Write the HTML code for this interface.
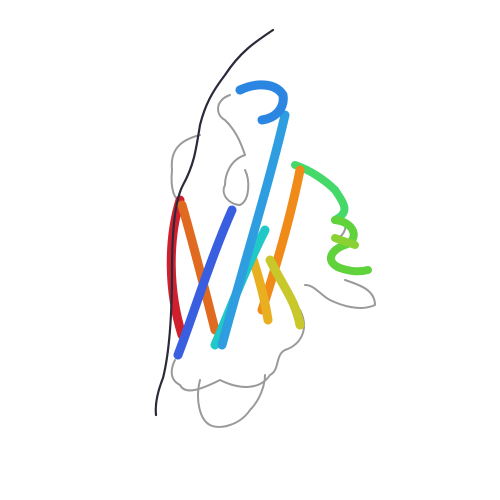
<!DOCTYPE html>
<html><head><meta charset="utf-8"><style>html,body{margin:0;background:#fff}svg{display:block}</style></head>
<body>
<svg width="500" height="500" viewBox="0 0 500 500" fill="none" stroke-linecap="round" stroke-linejoin="round">
<g stroke="#9a9a9a" stroke-width="2">
<path d="M230,95 C215,100 215,115 225,120 C235,130 240,140 245,155"/>
<path d="M200,135 C180,140 170,150 172,170 C170,190 175,200 180,200"/>
<path d="M245,155 C230,160 225,175 225,185 C220,195 230,205 240,205 C250,200 250,180 245,170"/>
<path d="M300,310 C310,330 300,345 285,350 C275,355 280,370 270,375 C260,390 240,390 220,380 C200,390 185,395 180,385 C170,380 170,370 175,360"/>
<path d="M200,380 C195,400 200,420 210,425 C220,430 240,425 250,410 C260,400 265,385 265,375"/>
<path d="M345,280 C360,285 375,290 375,305 C360,312 340,305 330,300 C320,295 315,285 305,285"/>
<path d="M340,215 C350,225 345,235 335,240"/>
</g>
<g stroke-width="8">
<path d="M295,165 C310,170 325,180 335,190 C345,205 350,212 335,220" stroke="#45d96a"/>
<path d="M335,220 C355,222 360,240 345,245 C330,250 325,262 340,268 C352,272 360,272 368,270" stroke="#5fd23c"/>
<path d="M335,238 L355,245" stroke="#8ad233"/>
</g>
<g stroke-width="9">
<path d="M180,200 C168,240 168,290 182,335" stroke="#d0202d"/>
<path d="M182,205 C195,250 205,290 215,330" stroke="#e06a20"/>
<path d="M300,170 C290,220 275,270 262,310" stroke="#f08a18"/>
<path d="M270,260 C285,290 295,300 300,325" stroke="#c8c82a"/>
<path d="M250,250 C260,280 265,300 268,320" stroke="#e8b020"/>
<path d="M265,230 C245,270 230,310 215,345" stroke="#20c8c8"/>
<path d="M285,115 C270,180 245,260 222,345" stroke="#2e9ee0"/>
<path d="M232,210 C210,260 195,310 178,355" stroke="#3a5ee0"/>
<path d="M240,90 C255,83 275,82 283,95 C285,108 276,118 262,120" stroke="#2a86e0"/>
</g>
<path stroke="#2a2a3a" stroke-width="2.2" d="M273,30 C255,42 240,52 225,75 C212,92 205,105 200,125 C196,150 194,165 183,185 C175,200 172,230 172,270 C172,310 170,350 163,378 C157,393 155,405 156,415"/>
</svg>
</body></html>
